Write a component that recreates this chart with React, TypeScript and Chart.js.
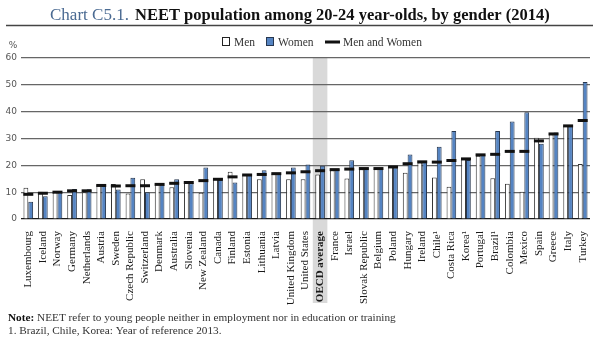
import React, { useEffect, useRef } from 'react';
import { Chart, registerables } from 'chart.js';

Chart.register(...registerables);

const CATEGORIES = [
  'Luxembourg', 'Iceland', 'Norway', 'Germany', 'Netherlands', 'Austria', 'Sweden',
  'Czech Republic', 'Switzerland', 'Denmark', 'Australia', 'Slovenia', 'New Zealand',
  'Canada', 'Finland', 'Estonia', 'Lithuania', 'Latvia', 'United Kingdom', 'United States',
  'OECD average', 'France', 'Israel', 'Slovak Republic', 'Belgium', 'Poland', 'Hungary',
  'Ireland', 'Chile¹', 'Costa Rica', 'Korea¹', 'Portugal', 'Brazil¹', 'Colombia', 'Mexico',
  'Spain', 'Greece', 'Italy', 'Turkey',
];

const MEN = [
  11.6, 10.2, 10.0, 8.9, 10.0, 12.8, 13.0, 9.5, 14.8, 13.0, 11.8, 14.0, 9.8,
  15.1, 17.6, 16.4, 14.8, 17.0, 14.8, 14.8, 16.6, 18.2, 15.1, 18.5, 18.8, 19.4, 17.2,
  21.1, 15.5, 12.0, 22.3, 23.6, 15.2, 13.1, 10.2, 30.3, 31.6, 34.7, 20.5,
];

const WOMEN = [
  6.4, 8.5, 10.0, 11.2, 11.1, 12.3, 11.0, 15.4, 10.0, 12.8, 14.8, 13.3, 19.2,
  14.5, 13.6, 16.4, 18.2, 16.8, 19.2, 20.3, 19.8, 18.6, 21.9, 19.1, 18.8, 19.2, 24.0,
  21.4, 26.9, 32.8, 22.0, 23.9, 32.8, 36.3, 39.8, 28.0, 32.2, 34.7, 51.1,
];

const TOTAL = [
  9.2, 9.6, 10.0, 10.5, 10.5, 12.5, 12.3, 12.4, 12.4, 12.9, 13.3, 13.6, 14.3,
  14.8, 15.7, 16.4, 16.6, 16.9, 17.2, 17.6, 18.0, 18.4, 18.6, 18.8, 18.8, 19.4, 20.6,
  21.3, 21.2, 21.8, 22.4, 23.9, 24.1, 25.2, 25.2, 29.1, 31.7, 34.7, 36.7,
];

const Y_MIN = 0;
const Y_MAX = 60;
const Y_STEP = 10;
const HIGHLIGHT = 'OECD average';

const TITLE_A = 'Chart C5.1.';
const TITLE_B = 'NEET population among 20-24 year-olds, by gender (2014)';
const NOTE_BOLD = 'Note:';
const NOTE_1 = ' NEET refer to young people neither in employment nor in education or training';
const NOTE_2 = '1. Brazil, Chile, Korea: Year of reference 2013.';
const LEGEND_MEN = 'Men';
const LEGEND_WOMEN = 'Women';
const LEGEND_TOTAL = 'Men and Women';

const SERIF = '"Liberation Serif", "DejaVu Serif", serif';
const SANS = '"DejaVu Sans", "Liberation Sans", sans-serif';
const BLUE = '#5584c2';
const BLUE_BORDER = '#27374f';

function fitSize(ctx: CanvasRenderingContext2D, text: string, weight: string, target: number, base: number) {
  ctx.font = `${weight} ${base}px ${SERIF}`;
  const w = ctx.measureText(text).width;
  return (base * target) / w;
}

const decorPlugin = {
  id: 'decor',
  beforeDraw(chart: any) {
    const { ctx, chartArea, scales } = chart;
    const x = scales.x;
    const idx = CATEGORIES.indexOf(HIGHLIGHT);
    const cx = x.getPixelForValue(idx);
    const w = x.width / CATEGORIES.length;
    ctx.save();
    ctx.fillStyle = '#d9d9d9';
    ctx.fillRect(cx - w / 2, chartArea.top, w, 303 - chartArea.top);
    ctx.restore();
  },
  afterDraw(chart: any) {
    const ctx: CanvasRenderingContext2D = chart.ctx;
    ctx.save();
    ctx.textBaseline = 'alphabetic';
    ctx.textAlign = 'left';

    // Title
    const sA = fitSize(ctx, TITLE_A, 'normal', 79, 16);
    const sB = fitSize(ctx, TITLE_B, 'bold', 415, 16);
    ctx.font = `normal ${sA}px ${SERIF}`;
    ctx.fillStyle = '#4a6a92';
    ctx.fillText(TITLE_A, 50, 20);
    ctx.font = `bold ${sB}px ${SERIF}`;
    ctx.fillStyle = '#111';
    ctx.fillText(TITLE_B, 135, 20);

    // Rule
    ctx.strokeStyle = '#444';
    ctx.lineWidth = 1.5;
    ctx.beginPath();
    ctx.moveTo(6, 25.5);
    ctx.lineTo(593, 25.5);
    ctx.stroke();

    // Legend
    const ly = 42;
    ctx.font = `normal 11.5px ${SERIF}`;
    ctx.fillStyle = '#fff';
    ctx.fillRect(222.5, ly - 4.5, 7, 8);
    ctx.strokeStyle = '#222';
    ctx.lineWidth = 1;
    ctx.strokeRect(222.5, ly - 4.5, 7, 8);
    ctx.fillStyle = '#333';
    ctx.fillText(LEGEND_MEN, 234, ly + 4);
    ctx.fillStyle = BLUE;
    ctx.fillRect(266.5, ly - 4.5, 7, 8);
    ctx.strokeStyle = BLUE_BORDER;
    ctx.strokeRect(266.5, ly - 4.5, 7, 8);
    ctx.fillStyle = '#333';
    ctx.fillText(LEGEND_WOMEN, 278, ly + 4);
    ctx.fillStyle = '#111';
    ctx.fillRect(325, ly - 1.5, 15, 3);
    ctx.fillStyle = '#333';
    ctx.fillText(LEGEND_TOTAL, 343, ly + 4);

    // % unit
    ctx.font = `normal 9px ${SANS}`;
    ctx.fillStyle = '#555';
    ctx.textAlign = 'center';
    ctx.fillText('%', 13, 48);
    ctx.textAlign = 'left';

    // Notes
    const base = 11;
    ctx.font = `bold ${base}px ${SERIF}`;
    const wb = ctx.measureText(NOTE_BOLD).width;
    ctx.font = `normal ${base}px ${SERIF}`;
    const wn = ctx.measureText(NOTE_1).width;
    const s = (base * 388) / (wb + wn);
    ctx.font = `bold ${s}px ${SERIF}`;
    ctx.fillStyle = '#111';
    ctx.fillText(NOTE_BOLD, 8, 321);
    const wb2 = ctx.measureText(NOTE_BOLD).width;
    ctx.font = `normal ${s}px ${SERIF}`;
    ctx.fillStyle = '#333';
    ctx.fillText(NOTE_1, 8 + wb2, 321);
    ctx.fillText(NOTE_2, 8, 334);
    ctx.restore();
  },
};

export default function App() {
  const ref = useRef<HTMLCanvasElement | null>(null);

  useEffect(() => {
    if (!ref.current) return;
    const hi = CATEGORIES.indexOf(HIGHLIGHT);
    const chart = new Chart(ref.current, {
      type: 'bar',
      data: {
        labels: CATEGORIES,
        datasets: [
          {
            type: 'line',
            label: LEGEND_TOTAL,
            data: TOTAL,
            showLine: false,
            pointStyle: 'line',
            pointRadius: 5,
            pointHoverRadius: 5,
            pointBorderWidth: 3,
            pointBorderColor: '#111',
            borderColor: '#111',
            backgroundColor: '#111',
            order: 0,
          } as any,
          {
            type: 'bar',
            label: LEGEND_MEN,
            data: MEN,
            backgroundColor: '#ffffff',
            borderColor: '#333',
            borderWidth: 1,
            categoryPercentage: 0.66,
            barPercentage: 1,
            order: 1,
          },
          {
            type: 'bar',
            label: LEGEND_WOMEN,
            data: WOMEN,
            backgroundColor: BLUE,
            borderColor: BLUE_BORDER,
            borderWidth: 1,
            categoryPercentage: 0.66,
            barPercentage: 1,
            order: 1,
          },
        ],
      },
      options: {
        responsive: false,
        animation: false,
        devicePixelRatio: 1,
        layout: { padding: { top: 58, left: 0, right: 8, bottom: 30 } },
        plugins: {
          legend: { display: false },
          title: { display: false },
          tooltip: { enabled: false },
        },
        scales: {
          x: {
            grid: { display: false },
            border: { display: false },
            ticks: {
              autoSkip: false,
              maxRotation: 90,
              minRotation: 90,
              padding: 4,
              color: '#1a1a1a',
              font: (c: any) => ({ family: SERIF, size: 11, weight: c.index === hi ? 'bold' : 'normal' }),
            },
            afterFit: (s: any) => {
              s.height = 88;
            },
          },
          y: {
            min: Y_MIN,
            max: Y_MAX,
            ticks: { stepSize: Y_STEP, padding: 4, color: '#555', font: { family: SANS, size: 9 } },
            grid: {
              color: (c: any) => (c.tick && c.tick.value === 0 ? '#1a1a1a' : '#666'),
              lineWidth: 1.2,
              drawTicks: false,
            },
            border: { display: false },
            afterFit: (s: any) => {
              s.width = 21;
            },
          },
        },
      },
      plugins: [decorPlugin],
    });
    return () => chart.destroy();
  }, []);

  return (
    <div style={{ position: 'fixed', left: 0, top: 0, width: 600, height: 337, background: '#fff' }}>
      <canvas ref={ref} width={600} height={337} style={{ width: 600, height: 337, display: 'block' }} />
    </div>
  );
}
